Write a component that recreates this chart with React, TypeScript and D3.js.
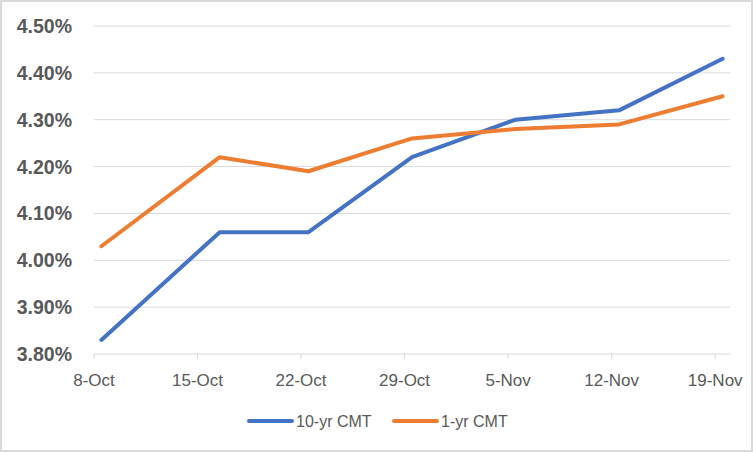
import React from 'react';
import * as d3 from 'd3';

// observation dates (Excel date axis: points sit mid-day)
const dates = ['2024-10-08', '2024-10-16', '2024-10-22', '2024-10-29', '2024-11-05', '2024-11-12', '2024-11-19'];
const tenYr = [3.83, 4.06, 4.06, 4.22, 4.30, 4.32, 4.43];
const oneYr = [4.03, 4.22, 4.19, 4.26, 4.28, 4.29, 4.35];
const tickDates = ['2024-10-08', '2024-10-15', '2024-10-22', '2024-10-29', '2024-11-05', '2024-11-12', '2024-11-19'];
const tickLabels = ['8-Oct', '15-Oct', '22-Oct', '29-Oct', '5-Nov', '12-Nov', '19-Nov'];
const yTicks = [3.8, 3.9, 4.0, 4.1, 4.2, 4.3, 4.4, 4.5];

const seriesList = [
  {name: '10-yr CMT', values: tenYr, color: '#4472C4'},
  {name: '1-yr CMT', values: oneYr, color: '#ED7D31'},
];

const W = 753;
const H = 452;
const parse = (s: string) => new Date(s + 'T00:00:00');
const font = '"Liberation Sans", Arial, sans-serif';

const App = () => {
  const start = parse('2024-10-08');
  const end = parse('2024-11-20');
  const x = d3.scaleTime().domain([start, end]).range([94, 730]);
  const y = d3.scaleLinear().domain([3.8, 4.5]).range([354, 26]);
  const mid = (s: string) => new Date(parse(s).getTime() + 12 * 3600 * 1000);

  const line = d3.line<number>()
    .x((_, i) => x(mid(dates[i])))
    .y(d => y(d));

  return (
    <div style={{position: 'fixed', left: 0, top: 0}}>
      <svg width={W} height={H} style={{display: 'block'}}>
        <rect x={0} y={0} width={W} height={H} fill="#fff" />
        <rect x={1} y={1} width={W - 2} height={H - 2} fill="none" stroke="#d9d9d9" strokeWidth={2} />

        {/* gridlines + y labels */}
        {yTicks.map(t => (
          <g key={t}>
            {t > 3.8 && (
              <line x1={94} x2={730} y1={y(t)} y2={y(t)} stroke="#d9d9d9" strokeWidth={1} />
            )}
            <text x={72} y={y(t)} dy="0.36em" textAnchor="end" fontFamily={font}
              fontSize={19.5} fontWeight="bold" fill="#595959">
              {d3.format('.2f')(t)}%
            </text>
          </g>
        ))}

        {/* x axis */}
        <line x1={94} x2={730} y1={y(3.8)} y2={y(3.8)} stroke="#d9d9d9" strokeWidth={1} />
        {tickDates.map((d, i) => (
          <g key={d}>
            <line x1={x(parse(d))} x2={x(parse(d))} y1={y(3.8)} y2={y(3.8) + 5} stroke="#d9d9d9" />
            <text x={x(parse(d))} y={386} textAnchor="middle" fontFamily={font}
              fontSize={17} fill="#595959">
              {tickLabels[i]}
            </text>
          </g>
        ))}

        {/* series */}
        {seriesList.map(s => (
          <path key={s.name} d={line(s.values) || ''} fill="none" stroke={s.color}
            strokeWidth={4} strokeLinecap="round" strokeLinejoin="round" />
        ))}

        {/* legend */}
        {seriesList.map((s, i) => {
          const lx = i === 0 ? 249 : 394;
          return (
            <g key={s.name}>
              <line x1={lx} x2={lx + 43} y1={421} y2={421} stroke={s.color} strokeWidth={4} strokeLinecap="round" />
              <text x={lx + 47} y={421} dy="0.36em" fontFamily={font} fontSize={16} fill="#595959">
                {s.name}
              </text>
            </g>
          );
        })}
      </svg>
    </div>
  );
};

export default App;
